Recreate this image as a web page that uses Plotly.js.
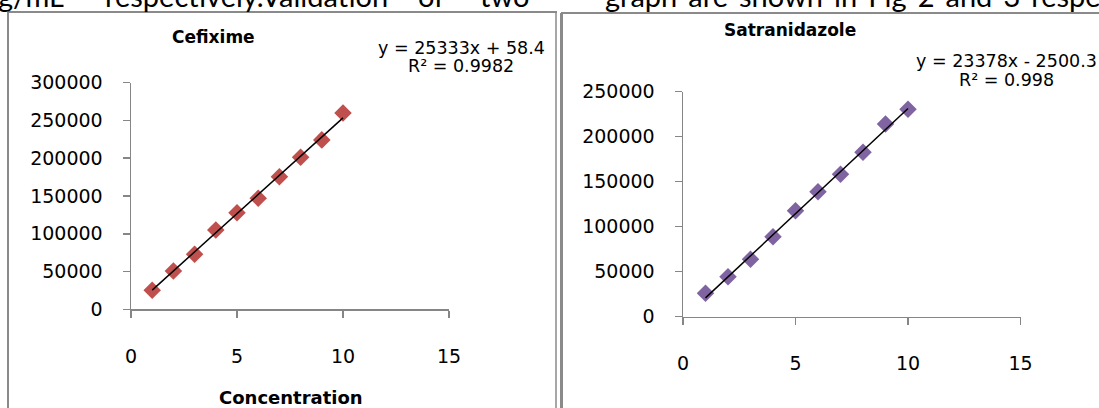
<!DOCTYPE html>
<html>
<head>
<meta charset="utf-8">
<script src="https://cdn.plot.ly/plotly-3.0.1.min.js"></script>
<style>
html,body{margin:0;padding:0;background:#fff;overflow:hidden;}
#chart{width:1099px;height:408px;}
</style>
</head>
<body>
<div id="chart"></div>
<script>
// ---- data ----
const concentration = [1, 2, 3, 4, 5, 6, 7, 8, 9, 10];
const cefiximeArea = [25200, 50800, 73000, 104900, 127800, 147000, 175600, 201400, 224300, 259800];
const satranidazoleArea = [26000, 44400, 63800, 88900, 117800, 138900, 158200, 182700, 214100, 230400];
const cefiximeSlope = 25333, cefiximeIntercept = 58.4, cefiximeR2 = "0.9982";
const satraSlope = 23378, satraIntercept = -2500.3, satraR2 = "0.998";
const xTicks = [0, 5, 10, 15];
const cefiximeYTicks = [0, 50000, 100000, 150000, 200000, 250000, 300000];
const satraYTicks = [0, 50000, 100000, 150000, 200000, 250000];
const chartTitles = ["Cefixime", "Satranidazole"];
const xTitle = "Concentration";
const topTextLeft = ["g/mL", "respectively.Validation", "of", "two"];
const topTextRight = ["graph", "are", "shown", "in", "Fig", "2", "and", "3", "respectively"];

// ---- helpers ----
const W = 1099, H = 408;
const px = x => x / W;
const py = y => 1 - y / H;

const trendX = [concentration[0], concentration[concentration.length - 1]];
const trend = (m, b) => trendX.map(x => m * x + b);

const tickFont = {family: "DejaVu Sans", size: 19, color: "#000"};
const axisCommon = {
  showgrid: false, zeroline: false, showline: true, linecolor: "#868686", linewidth: 1.5,
  ticks: "outside", ticklen: 7, tickcolor: "#868686", tickwidth: 1.5,
  tickfont: tickFont, fixedrange: true
};

const traces = [
  {x: concentration, y: cefiximeArea, type: "scatter", mode: "markers", xaxis: "x", yaxis: "y",
   marker: {symbol: "diamond", size: 13.5, color: "#C0504D", line: {width: 0}}, showlegend: false},
  {x: trendX, y: trend(cefiximeSlope, cefiximeIntercept), type: "scatter", mode: "lines", xaxis: "x", yaxis: "y",
   line: {color: "#000", width: 1.5}, showlegend: false},
  {x: concentration, y: satranidazoleArea, type: "scatter", mode: "markers", xaxis: "x2", yaxis: "y2",
   marker: {symbol: "diamond", size: 13.5, color: "#8064A2", line: {width: 0}}, showlegend: false},
  {x: trendX, y: trend(satraSlope, satraIntercept), type: "scatter", mode: "lines", xaxis: "x2", yaxis: "y2",
   line: {color: "#000", width: 1.5}, showlegend: false}
];

const eqFont = {family: "DejaVu Sans", size: 17.5, color: "#000"};
const fmtEq = (m, b) => "y = " + m + "x " + (b < 0 ? "- " : "+ ") + Math.abs(b);

const annotations = [
  {text: "<b>" + chartTitles[0] + "</b>", x: px(213), y: py(37), font: {family: "DejaVu Sans", size: 17, color: "#000"}},
  {text: "<b>" + chartTitles[1] + "</b>", x: px(790), y: py(30), font: {family: "DejaVu Sans", size: 17, color: "#000"}},
  {text: "<b>" + xTitle + "</b>", x: px(291), y: py(397), font: {family: "DejaVu Sans", size: 18, color: "#000"}},
  {text: fmtEq(cefiximeSlope, cefiximeIntercept), x: px(461), y: py(48), font: eqFont},
  {text: "R² = " + cefiximeR2, x: px(461), y: py(66), font: eqFont},
  {text: fmtEq(satraSlope, satraIntercept), x: px(1006), y: py(61), font: eqFont},
  {text: "R² = " + satraR2, x: px(1006), y: py(80), font: eqFont}
].map(a => Object.assign({xref: "paper", yref: "paper", showarrow: false, xanchor: "center", yanchor: "middle"}, a));

// partially visible text line of the page above the figure (justified words)
const topFont = {family: "Lato", size: 29, color: "#000"};
const leftPos = [-4, 103, 416, 478];
topTextLeft.forEach((t, i) => annotations.push({
  text: t, xref: "paper", yref: "paper", x: px(leftPos[i]), y: py(-5), xanchor: "left", yanchor: "middle",
  showarrow: false, font: topFont
}));
annotations.push({text: topTextRight.join(" \u2009"), xref: "paper", yref: "paper", x: px(603), y: py(-5), xanchor: "left",
  yanchor: "middle", showarrow: false, font: topFont});

const boxLine = {color: "#8a8a8a", width: 2};
const shapes = [
  {type: "line", xref: "paper", yref: "paper", x0: px(8), x1: px(8), y0: py(12), y1: py(420), line: boxLine},
  {type: "line", xref: "paper", yref: "paper", x0: px(8), x1: px(557), y0: py(12), y1: py(12), line: boxLine},
  {type: "line", xref: "paper", yref: "paper", x0: px(556), x1: px(556), y0: py(12), y1: py(420), line: {color: "#8a8a8a", width: 1.5}},
  {type: "line", xref: "paper", yref: "paper", x0: px(561), x1: px(1110), y0: py(13), y1: py(13), line: boxLine},
  {type: "line", xref: "paper", yref: "paper", x0: px(561.5), x1: px(561.5), y0: py(13), y1: py(420), line: {color: "#8a8a8a", width: 3}}
];

const layout = {
  width: W, height: H, margin: {l: 0, r: 0, t: 0, b: 0},
  paper_bgcolor: "#fff", plot_bgcolor: "rgba(0,0,0,0)", showlegend: false,
  xaxis: Object.assign({}, axisCommon, {domain: [px(131), px(449)], range: [0, 15], tickvals: xTicks, ticktext: xTicks.map(String), anchor: "y", ticklabelstandoff: 22}),
  yaxis: Object.assign({}, axisCommon, {domain: [py(309.3), py(82.7)], range: [0, 300000], tickvals: cefiximeYTicks, ticktext: cefiximeYTicks.map(String), anchor: "x", ticklabelstandoff: 16}),
  xaxis2: Object.assign({}, axisCommon, {domain: [px(683), px(1020.5)], range: [0, 15], tickvals: xTicks, ticktext: xTicks.map(String), anchor: "y2", ticklabelstandoff: 22}),
  yaxis2: Object.assign({}, axisCommon, {domain: [py(316.7), py(91.7)], range: [0, 250000], tickvals: satraYTicks, ticktext: satraYTicks.map(String), anchor: "x2", ticklabelstandoff: 16}),
  annotations: annotations,
  shapes: shapes
};

Plotly.newPlot("chart", traces, layout, {staticPlot: true, displayModeBar: false});
</script>
</body>
</html>
